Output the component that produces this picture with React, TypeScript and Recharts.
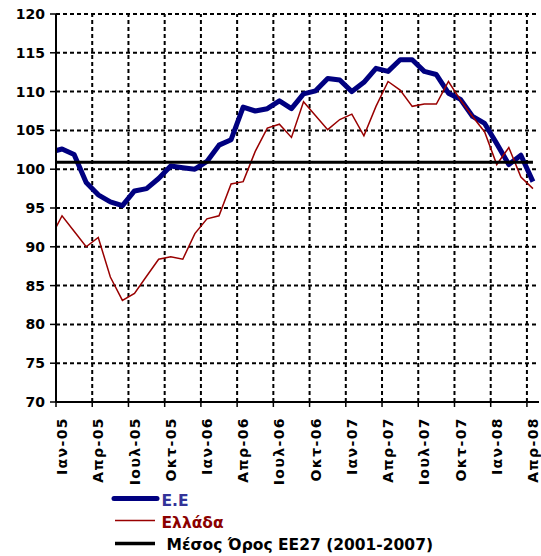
import React from "react";
import {
  LineChart,
  Line,
  XAxis,
  YAxis,
  CartesianGrid,
  ReferenceLine,
  Legend,
} from "recharts";

// Months: first entry (Δεκ-04) lies just left of the plot and is clipped away
const months = [
  "Δεκ-04",
  "Ιαν-05", "Φεβ-05", "Μαρ-05", "Απρ-05", "Μαι-05", "Ιουν-05", "Ιουλ-05", "Αυγ-05", "Σεπ-05", "Οκτ-05", "Νοε-05", "Δεκ-05",
  "Ιαν-06", "Φεβ-06", "Μαρ-06", "Απρ-06", "Μαι-06", "Ιουν-06", "Ιουλ-06", "Αυγ-06", "Σεπ-06", "Οκτ-06", "Νοε-06", "Δεκ-06",
  "Ιαν-07", "Φεβ-07", "Μαρ-07", "Απρ-07", "Μαι-07", "Ιουν-07", "Ιουλ-07", "Αυγ-07", "Σεπ-07", "Οκτ-07", "Νοε-07", "Δεκ-07",
  "Ιαν-08", "Φεβ-08", "Μαρ-08", "Απρ-08",
];

const euValues = [
  102.2,
  102.6, 101.9, 98.3, 96.7, 95.8, 95.3, 97.2, 97.5, 98.8, 100.4, 100.2, 100.0,
  101.0, 103.1, 103.8, 108.0, 107.5, 107.8, 108.8, 107.8, 109.7, 110.1, 111.7, 111.5,
  110.0, 111.2, 113.0, 112.6, 114.1, 114.1, 112.6, 112.2, 109.8, 109.0, 106.8, 105.9,
  103.3, 100.6, 101.8, 98.4,
];

const greeceValues = [
  91.0,
  94.0, 92.0, 90.0, 91.2, 86.1, 83.1, 84.0, 86.2, 88.4, 88.7, 88.4, 91.7,
  93.6, 94.0, 98.1, 98.4, 102.3, 105.3, 105.8, 104.1, 108.7, 106.9, 105.1, 106.4,
  107.1, 104.3, 108.1, 111.3, 110.2, 108.1, 108.4, 108.4, 111.3, 108.9, 106.8, 104.8,
  100.6, 102.8, 99.0, 97.5,
];

const EU27_AVG = 100.9;
const yTicks = [70, 75, 80, 85, 90, 95, 100, 105, 110, 115, 120];

const seriesNames = {
  eu: "E.E",
  gr: "Ελλάδα",
  avg: "Μέσος Όρος ΕΕ27 (2001-2007)",
};

const BLUE = "#000080";
const RED = "#990000";

// Build table: index i = position (0 = Ιαν-05)
const data = months.map((m, k) => ({
  i: k - 1,
  month: m,
  eu: euValues[k],
  gr: greeceValues[k],
}));

const lastIndex = months.length - 2; // 39
const nCats = lastIndex + 1; // 40

// tick positions: category boundaries (tick marks) and label centers every 3 months
const boundaryTicks: number[] = [];
for (let k = 0; k < nCats; k += 3) boundaryTicks.push(k - 0.5);
const labelTicks: number[] = [];
for (let k = 0; k < nCats; k += 3) labelTicks.push(k);
const allTicks = [...boundaryTicks, ...labelTicks].sort((a, b) => a - b);

const FONT = "'DejaVu Sans', Verdana, sans-serif";
const X_TICK_SIZE = 5;
const X_TICK_MARGIN = 10;

const XTick = (props: any) => {
  const { x, y, payload } = props;
  const v = payload.value as number;
  if (!Number.isInteger(v)) {
    const axisY = y - X_TICK_SIZE - X_TICK_MARGIN;
    return (
      <line x1={x} x2={x} y1={axisY} y2={axisY + X_TICK_SIZE} stroke="#000" strokeWidth={1.5} />
    );
  }
  const label = months[v + 1];
  return (
    <text
      x={x}
      y={y}
      transform={`rotate(-90, ${x}, ${y})`}
      textAnchor="end"
      dy="0.36em"
      fontFamily={FONT}
      fontWeight={700}
      fontSize={14}
      letterSpacing={1.4}
      fill="#000"
      style={{ fontWeight: 700 }}
    >
      {label}
    </text>
  );
};

const YTick = (props: any) => {
  const { x, y, payload } = props;
  return (
    <text
      x={x}
      y={y}
      textAnchor="end"
      dy="0.36em"
      fontFamily={FONT}
      fontWeight={700}
      fontSize={14}
      fill="#000"
      style={{ fontWeight: 700 }}
    >
      {payload.value}
    </text>
  );
};

const renderLegend = () => (
  <svg width={531} height={70} style={{ display: "block" }}>
    <line x1={106} x2={149} y1={12.5} y2={12.5} stroke={BLUE} strokeWidth={5} strokeLinecap="round" />
    <text x={153.5} y={19.5} fontFamily={FONT} fontWeight={700} fontSize={15.5} fill="#333399">
      {seriesNames.eu}
    </text>
    <line x1={107} x2={147} y1={34.5} y2={34.5} stroke={RED} strokeWidth={1.5} />
    <text x={153.5} y={41.5} fontFamily={FONT} fontWeight={700} fontSize={15.5} fill="#8B0000">
      {seriesNames.gr}
    </text>
    <line x1={107} x2={147} y1={57.5} y2={57.5} stroke="#000" strokeWidth={3.5} />
    <text x={158.5} y={63.5} fontFamily={FONT} fontWeight={700} fontSize={15.5} fill="#000">
      {seriesNames.avg}
    </text>
  </svg>
);

export default function App() {
  return (
    <div
      style={{
        width: 541,
        height: 556,
        fontFamily: FONT,
        background: "#fff",
      }}
    >
      <style>{"html,body{margin:0;padding:0;}"}</style>
      <LineChart
        width={541}
        height={556}
        data={data}
        margin={{ top: 14, right: 2, bottom: 0, left: 8 }}
      >
        <CartesianGrid
          vertical={false}
          stroke="#000"
          strokeWidth={2}
          strokeDasharray="4 3"
        />
        {boundaryTicks.slice(1).map((t) => (
          <ReferenceLine
            key={t}
            x={t}
            stroke="#000"
            strokeWidth={2}
            strokeDasharray="4 3"
          />
        ))}
        <XAxis
          dataKey="i"
          type="number"
          domain={[-0.5, nCats - 0.5]}
          allowDataOverflow
          ticks={allTicks}
          interval={0}
          tick={<XTick />}
          tickLine={false}
          tickSize={X_TICK_SIZE}
          tickMargin={X_TICK_MARGIN}
          axisLine={{ stroke: "#000", strokeWidth: 2 }}
          height={84}
        />
        <YAxis
          type="number"
          domain={[70, 120]}
          allowDataOverflow
          ticks={yTicks}
          interval={0}
          width={48}
          tickSize={6}
          tickMargin={5}
          tickLine={{ stroke: "#000", strokeWidth: 1.5 }}
          axisLine={{ stroke: "#000", strokeWidth: 2 }}
          tick={<YTick />}
        />
        <Line
          type="linear"
          dataKey="eu"
          name={seriesNames.eu}
          stroke={BLUE}
          strokeWidth={5}
          strokeLinejoin="round"
          dot={false}
          activeDot={false}
          isAnimationActive={false}
        />
        <Line
          type="linear"
          dataKey="gr"
          name={seriesNames.gr}
          stroke={RED}
          strokeWidth={1.5}
          dot={false}
          activeDot={false}
          isAnimationActive={false}
        />
        <ReferenceLine
          segment={[
            { x: -0.5, y: EU27_AVG },
            { x: lastIndex, y: EU27_AVG },
          ]}
          stroke="#000"
          strokeWidth={3}
        />
        <Legend
          verticalAlign="bottom"
          align="left"
          layout="horizontal"
          content={renderLegend}
          wrapperStyle={{ height: 70 }}
        />
      </LineChart>
    </div>
  );
}
